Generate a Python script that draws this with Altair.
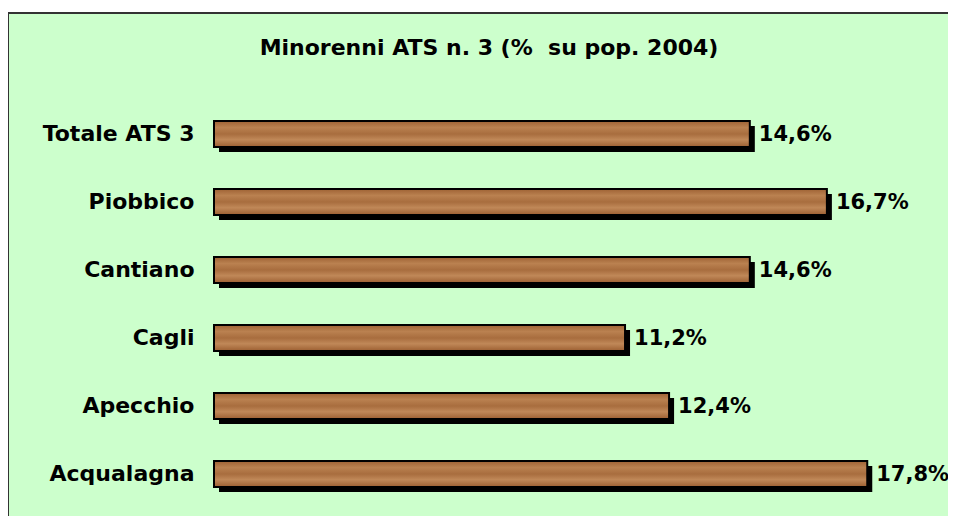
import altair as alt
import pandas as pd

categories = ["Totale ATS 3", "Piobbico", "Cantiano", "Cagli", "Apecchio", "Acqualagna"]
values = [14.6, 16.7, 14.6, 11.2, 12.4, 17.8]
labels = [f"{v:.1f}".replace(".", ",") + "%" for v in values]

df = pd.DataFrame({"cat": categories, "val": values, "lab": labels})
FONT = "DejaVu Sans"
BG = "#CCFFCC"

wood = alt.Gradient(
    gradient="linear",
    stops=[
        alt.GradientStop(color="#9E6234", offset=0),
        alt.GradientStop(color="#BA8150", offset=0.25),
        alt.GradientStop(color="#A86D3E", offset=0.5),
        alt.GradientStop(color="#C08858", offset=0.72),
        alt.GradientStop(color="#9C5F32", offset=1),
    ],
    x1=0, x2=0, y1=0, y2=1,
)

y_enc = alt.Y(
    "cat:N",
    sort=categories,
    scale=alt.Scale(paddingInner=0, paddingOuter=0),
    axis=alt.Axis(
        title=None, ticks=False, domain=False, grid=False,
        labelFont=FONT, labelFontSize=22, labelFontWeight="bold",
        labelColor="black", labelPadding=20, labelLimit=300, zindex=2,
    ),
)
x_enc = alt.X("val:Q", scale=alt.Scale(domain=[0, 20]), axis=None)

frame = alt.Chart(pd.DataFrame({"a": [0]})).mark_rect(
    fill=BG, stroke="#333333", strokeWidth=2
).encode(
    x=alt.value(-206), x2=alt.value(760),
    y=alt.value(-87), y2=alt.value(440),
)

base = alt.Chart(df)
shadow = base.mark_bar(color="black", size=26, xOffset=5, yOffset=5).encode(y=y_enc, x=x_enc)
bars = base.mark_bar(fill=wood, stroke="black", strokeWidth=2, size=26).encode(y=y_enc, x=x_enc)
text = base.mark_text(
    align="left", baseline="middle", dx=9, dy=1,
    font=FONT, fontSize=21, fontWeight="bold", color="black",
).encode(y=y_enc, x=x_enc, text="lab:N")

chart = alt.layer(frame, shadow, bars, text).properties(
    width=734,
    height=408,
    autosize=alt.AutoSizeParams(type="none"),
    padding={"left": 206, "top": 92, "right": 0, "bottom": 8},
    background="white",
    title=alt.TitleParams(
        "Minorenni ATS n. 3 (%\u00a0 su pop. 2004)",
        font=FONT, fontSize=22, fontWeight="bold", color="black",
        anchor="middle", frame="group", offset=-48, dx=-92, zindex=2,
    ),
).configure_view(stroke=None)

chart.save("out.html", embed_options={"renderer": "svg", "actions": False})
